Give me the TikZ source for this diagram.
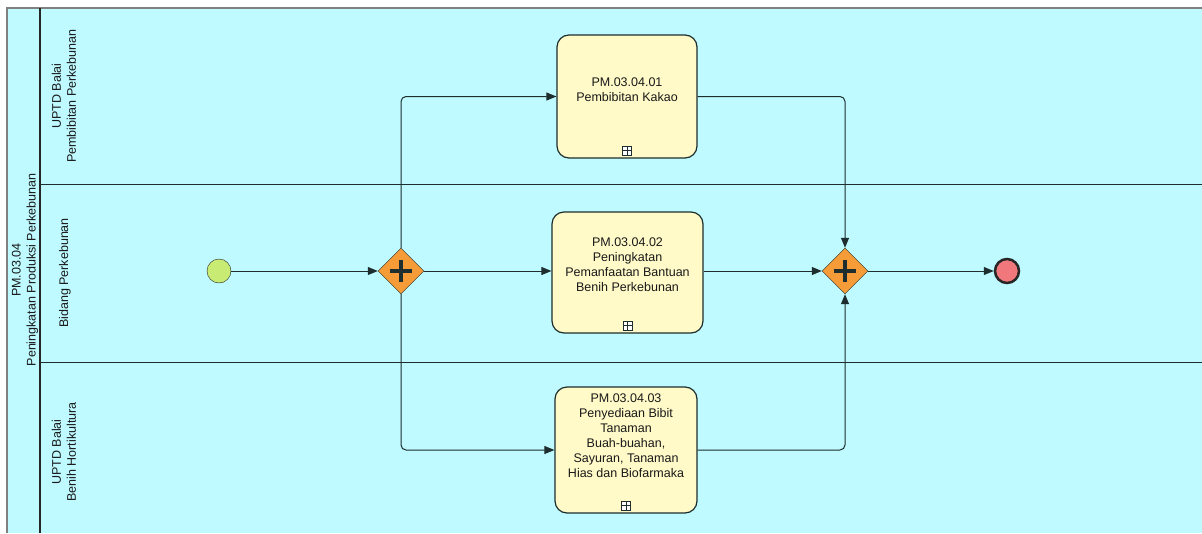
\documentclass[tikz,border=0pt]{standalone}
\usepackage{fontspec}
\setmainfont{Liberation Sans}
\usetikzlibrary{arrows.meta,shapes.geometric}
\definecolor{poolbg}{RGB}{190,250,255}
\definecolor{taskbg}{RGB}{255,250,200}
\definecolor{gwbg}{RGB}{245,155,55}
\definecolor{startbg}{RGB}{200,235,115}
\definecolor{endbg}{RGB}{240,120,125}
\definecolor{edge}{RGB}{30,45,45}
\tikzset {>={Triangle[length=10pt,width=8pt]},
  lbl/.style={font=\fontsize{12.5}{15}\selectfont,align=center,inner sep=0pt,text=black!90},
  task/.style={rectangle,rounded corners=12pt,draw=edge,line width=1.2pt,fill=taskbg,inner sep=0pt},
  marker/.style={rectangle,draw=edge,fill=white,minimum size=9pt,inner sep=0pt,
    path picture={\draw[edge] (path picture bounding box.north) -- (path picture bounding box.south)
      (path picture bounding box.west) -- (path picture bounding box.east);}},
  gateway/.style={diamond,draw=edge,fill=gwbg,minimum width=46pt,minimum height=46pt,inner sep=0pt,
    path picture={\draw[line width=4.5pt] ([xshift=-11pt]path picture bounding box.center) -- ([xshift=11pt]path picture bounding box.center)
      ([yshift=-11pt]path picture bounding box.center) -- ([yshift=11pt]path picture bounding box.center);}},
  event/.style={circle,draw=black!85,minimum size=24pt,inner sep=0pt},
  flow/.style={->,edge,line width=1pt,rounded corners=5pt}}
\begin{document}
\begin{tikzpicture}[x=1pt,y=-1pt]
\useasboundingbox (0,0) rectangle (1202,533);
% pool and lanes
\fill[poolbg] (7,8) rectangle (1202,533);
\draw[gray,line width=1.5pt] (1202,8) -- (7,8) -- (7,533);
\draw[black!85,line width=2pt] (40,8) -- (40,533);
\draw[edge] (40,184) -- (1202,184);
\draw[edge] (40,362) -- (1202,362);
\node[lbl,rotate=90] (pool) at (25,270) {PM.03.04\\Peningkatan Produksi Perkebunan};
\node[lbl,rotate=90] (lane1) at (64,96) {UPTD Balai\\Pembibitan Perkebunan};
\node[lbl,rotate=90] (lane2) at (65,273) {Bidang Perkebunan};
\node[lbl,rotate=90] (lane3) at (64,452) {UPTD Balai\\Benih Hortikultura};
% events and gateways
\node[event,fill=startbg] (start) at (219,271) {};
\node[gateway] (split) at (401,271) {};
\node[gateway] (join) at (845,271) {};
\node[event,fill=endbg,line width=2.5pt] (stop) at (1007,271) {};
% tasks
\node[task,minimum width=140pt,minimum height=123pt] (kakao) at (627,96.5) {};
\node[task,minimum width=151pt,minimum height=121pt] (bantuan) at (627.5,272.5) {};
\node[task,minimum width=142pt,minimum height=126pt] (bibit) at (626,450) {};
\node[lbl] (kakaotxt) at (627,90) {PM.03.04.01\\Pembibitan Kakao};
\node[lbl] (bantuantxt) at (627.5,265) {PM.03.04.02\\Peningkatan\\Pemanfaatan Bantuan\\Benih Perkebunan};
\node[lbl] (bibittxt) at (626,436) {PM.03.04.03\\Penyediaan Bibit\\Tanaman\\Buah-buahan,\\Sayuran, Tanaman\\Hias dan Biofarmaka};
\node[marker] (kakaomk) at ([yshift=8pt]kakao.south) {};
\node[marker] (bantuanmk) at ([yshift=8pt]bantuan.south) {};
\node[marker] (bibitmk) at ([yshift=8pt]bibit.south) {};
% sequence flows
\draw[flow] (start) -- (split);
\draw[flow] (split.north) |- (kakao.west);
\draw[flow] (split.east) -- (split -| bantuan.west);
\draw[flow] (split.south) |- (bibit.west);
\draw[flow] (kakao.east) -| (join.north);
\draw[flow] (bantuan.east |- join) -- (join.west);
\draw[flow] (bibit.east) -| (join.south);
\draw[flow] (join) -- (stop);
\end{tikzpicture}
\end{document}
